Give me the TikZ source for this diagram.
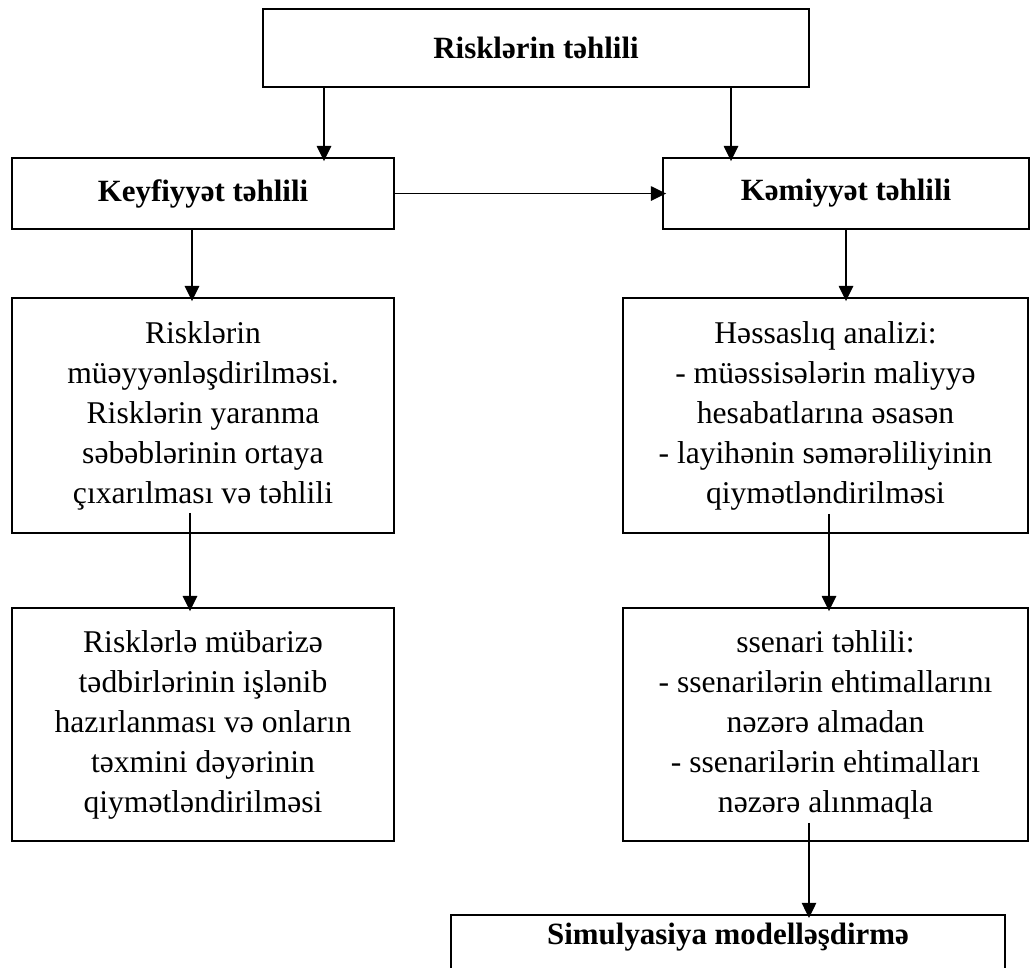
\documentclass[tikz,border=0pt]{standalone}
\usepackage{fontspec}
\setmainfont{Liberation Serif}
\usetikzlibrary{arrows.meta, positioning}

\begin{document}
\begin{tikzpicture}[
  box/.style={draw, line width=1.3pt, align=center, inner sep=0pt,
    font=\fontsize{22.5}{28.45}\selectfont},
  headbox/.style={box, font=\fontsize{22}{28.45}\selectfont\bfseries},
  arr/.style={-{Triangle[length=3.8mm, width=3.6mm]}, line width=1.2pt, shorten >=-1mm}
]

% frame of the page
\useasboundingbox (0,0) rectangle (25.75,-24.175);

% Top level
\node[headbox, minimum width=13.65cm, minimum height=1.95cm] (topbox) at (13.4,-1.2) {Risklərin təhlili};

% Second level
\node[headbox, minimum width=9.55cm, minimum height=1.775cm] (keyf) at (5.075,-4.8375) {Keyfiyyət təhlili};
\node[headbox, minimum width=9.15cm, minimum height=1.775cm] (kemiy) at (21.15,-4.8375) {Kəmiyyət təhlili};

% Left column
\node[box, minimum width=9.55cm, minimum height=5.875cm] (left2) at (5.075,-10.3875)
  {Risklərin\\ müəyyənləşdirilməsi.\\ Risklərin yaranma\\ səbəblərinin ortaya\\ çıxarılması və təhlili};
\node[box, minimum width=9.55cm, minimum height=5.825cm] (left3) at (5.075,-18.1125)
  {Risklərlə mübarizə\\ tədbirlərinin işlənib\\ hazırlanması və onların\\ təxmini dəyərinin\\ qiymətləndirilməsi};

% Right column
\node[box, minimum width=10.125cm, minimum height=5.875cm] (right2) at (20.6375,-10.3875)
  {Həssaslıq analizi:\\ - müəssisələrin maliyyə\\ hesabatlarına əsasən\\ - layihənin səmərəliliyinin\\ qiymətləndirilməsi};
\node[box, minimum width=10.125cm, minimum height=5.825cm] (right3) at (20.6375,-18.1125)
  {ssenari təhlili:\\ - ssenarilərin ehtimallarını\\ nəzərə almadan\\ - ssenarilərin ehtimalları\\ nəzərə alınmaqla};

% Bottom box (cut by the page edge)
\node[headbox, minimum width=13.85cm, inner ysep=0pt, text height=0.75cm, text depth=1.4cm, anchor=north]
  (simbox) at (18.2,-22.85) {Simulyasiya modelləşdirmə};

% Connectors
\draw[arr] ([xshift=-5.3cm]topbox.south) -- ([xshift=-5.3cm]topbox.south |- keyf.north);
\draw[arr] ([xshift=4.875cm]topbox.south) -- ([xshift=4.875cm]topbox.south |- kemiy.north);
\draw[arr] (keyf.east) -- (kemiy.west);
\draw[arr] ([xshift=-0.275cm]keyf.south) -- ([xshift=-0.275cm]keyf.south |- left2.north);
\draw[arr] (kemiy.south) -- (kemiy.south |- right2.north);
\draw[arr] ([xshift=-0.325cm, yshift=0.525cm]left2.south) -- ([xshift=-0.325cm]left2.south |- left3.north);
\draw[arr] ([xshift=0.0875cm, yshift=0.5cm]right2.south) -- ([xshift=0.0875cm]right2.south |- right3.north);
\draw[arr] ([xshift=-0.4125cm, yshift=0.475cm]right3.south) -- ([xshift=-0.4125cm]right3.south |- simbox.north);

\end{tikzpicture}
\end{document}
